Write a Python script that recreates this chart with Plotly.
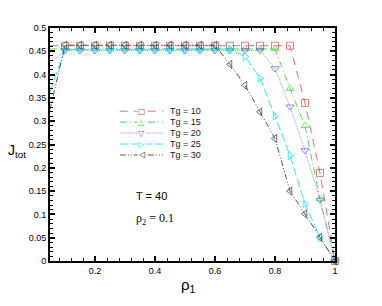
import plotly.graph_objects as go

rho1 = [0.05, 0.1, 0.15, 0.2, 0.25, 0.3, 0.35, 0.4, 0.45, 0.5, 0.55, 0.6, 0.65, 0.7, 0.75, 0.8, 0.85, 0.9, 0.95, 1.0]

j_tg10 = [0.462, 0.462, 0.462, 0.462, 0.462, 0.462, 0.462, 0.462, 0.462, 0.462, 0.462, 0.462, 0.462, 0.462, 0.462, 0.462, 0.462, 0.339, 0.189, 0.0]
j_tg15 = [0.455, 0.455, 0.455, 0.455, 0.455, 0.455, 0.455, 0.455, 0.455, 0.455, 0.455, 0.455, 0.455, 0.455, 0.455, 0.455, 0.370, 0.290, 0.133, 0.0]
j_tg20 = [0.424, 0.452, 0.452, 0.452, 0.452, 0.452, 0.452, 0.452, 0.452, 0.452, 0.452, 0.452, 0.452, 0.452, 0.452, 0.413, 0.331, 0.237, 0.131, 0.0]
j_tg25 = [0.363, 0.454, 0.454, 0.454, 0.454, 0.454, 0.454, 0.454, 0.454, 0.454, 0.454, 0.454, 0.454, 0.439, 0.392, 0.311, 0.226, 0.123, 0.050, 0.0]
j_tg30 = [0.325, 0.463, 0.463, 0.463, 0.463, 0.463, 0.463, 0.463, 0.463, 0.463, 0.463, 0.463, 0.422, 0.377, 0.320, 0.263, 0.150, 0.101, 0.051, 0.0]

names = ["Tg = 10", "Tg = 15", "Tg = 20", "Tg = 25", "Tg = 30"]
colors = ["#e04848", "#33dd33", "#5a5aff", "#00eeee", "#333333"]
line_colors = ["#e87070", "#55dd55", "#9090ff", "#33eeee", "#555555"]
dashes = ["8px,6px", "7px,3px,1px,3px", "1px,1px", "9px,3px", "6px,2px,1px,2px,1px,2px"]
symbols = ["square-open", "triangle-up-open", "triangle-down-open", "triangle-right-open", "triangle-left-open"]
glyphs = ["□", "△", "▽", "▷", "◁"]
series = [j_tg10, j_tg15, j_tg20, j_tg25, j_tg30]

fig = go.Figure()
for name, ys, c, lc, d, s in zip(names, series, colors, line_colors, dashes, symbols):
    sizes = [0] + [7] * (len(rho1) - 1)
    fig.add_trace(go.Scatter(
        x=rho1, y=ys, name=name, mode="lines+markers",
        line=dict(color=lc, width=1, dash=d),
        marker=dict(symbol=s, size=sizes, color=c, line=dict(color=c, width=1)),
        cliponaxis=False, showlegend=False,
    ))

# hand-made compact legend (paper coordinates)
shapes = []
annotations = []
leg_y = [0.643, 0.596, 0.549, 0.502, 0.455]
for name, c, lc, d, g, yy in zip(names, colors, line_colors, dashes, glyphs, leg_y):
    shapes.append(dict(type="line", xref="paper", yref="paper", x0=0.245, x1=0.396, y0=yy, y1=yy,
                       line=dict(color=lc, width=1, dash=d)))
    annotations.append(dict(text=g, xref="paper", yref="paper", x=0.322, y=yy, xanchor="center", yanchor="middle",
                            showarrow=False, bgcolor="white", borderpad=0,
                            font=dict(family="DejaVu Sans", size=8, color=c)))
    annotations.append(dict(text=name, xref="paper", yref="paper", x=0.415, y=yy, xanchor="left", yanchor="middle",
                            showarrow=False, font=dict(family="Liberation Sans, Arial", size=9, color="#222")))

axis_common = dict(
    showgrid=False, zeroline=False, showline=True, linecolor="black", linewidth=2,
    mirror="allticks", ticks="inside", ticklen=5, tickwidth=2, tickcolor="black",
    tickfont=dict(family="Liberation Sans, Arial", size=9, color="black"),
)

annotations += [
    dict(text="J<sub>tot</sub>", xref="paper", yref="paper", x=-0.077, y=0.47, xanchor="right", yanchor="middle",
         showarrow=False, font=dict(family="Liberation Sans, Arial", size=14, color="black")),
    dict(text="ρ<sub>1</sub>", xref="paper", yref="paper", x=0.487, y=-0.055, xanchor="center", yanchor="top",
         showarrow=False, font=dict(family="Liberation Sans, Arial", size=15, color="black")),
    dict(text="T = 40", xref="paper", yref="paper", x=0.295, y=0.280, xanchor="left", yanchor="middle",
         showarrow=False, font=dict(family="Liberation Sans, Arial", size=11, color="black")),
    dict(text="ρ<sub>2</sub> = 0.1", xref="paper", yref="paper", x=0.295, y=0.181, xanchor="left", yanchor="middle",
         showarrow=False, font=dict(family="Liberation Serif, Times New Roman", size=12, color="black")),
]

# the page body has an 8px margin, so the figure is made 8px smaller and margins shifted
fig.update_layout(
    width=374, height=298,
    margin=dict(l=42, r=47, t=20, b=45),
    paper_bgcolor="white", plot_bgcolor="white",
    showlegend=False,
    xaxis=dict(range=[0.05, 1.0], tickvals=[0.2, 0.4, 0.6, 0.8, 1.0], ticktext=["0.2", "0.4", "0.6", "0.8", "1"],
               minor=dict(dtick=0.04, tick0=0.0, ticks="inside", ticklen=3, tickwidth=1, tickcolor="black"),
               **axis_common),
    yaxis=dict(range=[0, 0.5], tickvals=[0, 0.05, 0.1, 0.15, 0.2, 0.25, 0.3, 0.35, 0.4, 0.45, 0.5],
               ticktext=["0", "0.05", "0.1", "0.15", "0.2", "0.25", "0.3", "0.35", "0.4", "0.45", "0.5"],
               minor=dict(dtick=0.01, tick0=0.0, ticks="inside", ticklen=3, tickwidth=1, tickcolor="black"),
               **axis_common),
    shapes=shapes,
    annotations=annotations,
)

fig.write_html("out.html")
